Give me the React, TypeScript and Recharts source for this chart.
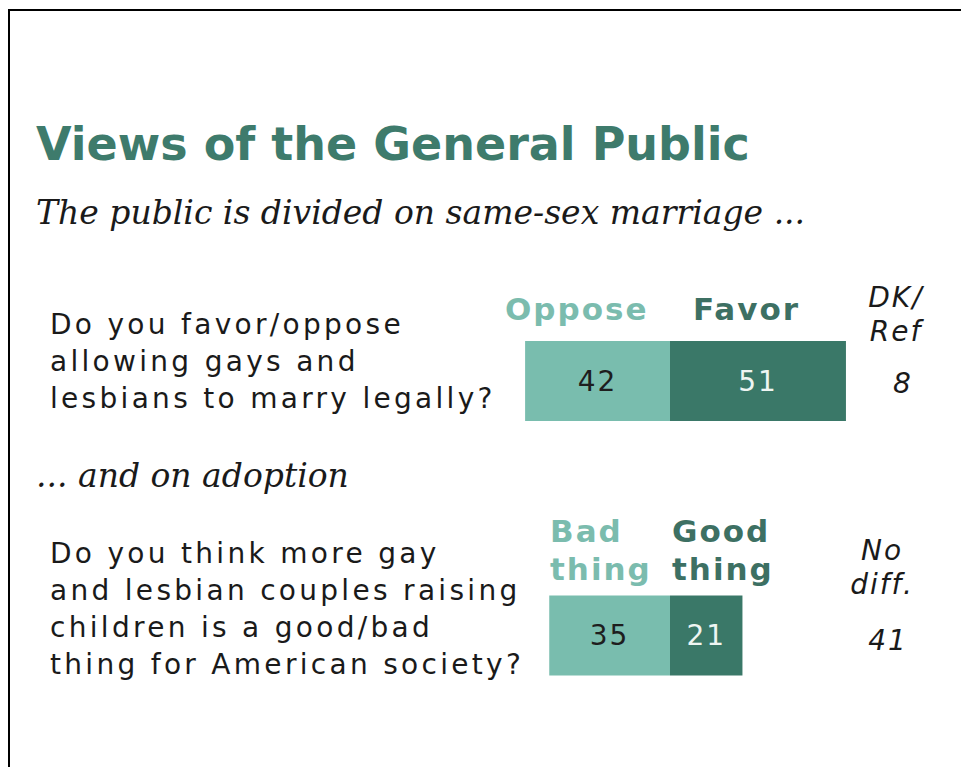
import React from 'react';
import { BarChart, Bar, XAxis, YAxis, LabelList } from 'recharts';

// survey rows
const QUESTIONS = ['sameSexMarriage', 'adoption'];
const QUESTION_LINES = [
  ['Do you favor/oppose', 'allowing gays and', 'lesbians to marry legally?'],
  ['Do you think more gay', 'and lesbian couples raising', 'children is a good/bad', 'thing for American society?'],
];
const NEG_LABELS = [['Oppose'], ['Bad', 'thing']];
const POS_LABELS = [['Favor'], ['Good', 'thing']];
const OTHER_LABELS = [['DK/', 'Ref'], ['No', 'diff.']];
const NEG_VALUES = [42, 35];
const POS_VALUES = [51, 21];
const OTHER_VALUES = [8, 41];

const LIGHT = '#79bdae';
const DARK = '#3a7868';
const SANS = '"DejaVu Sans", Verdana, sans-serif';
const SERIF = '"DejaVu Serif", Georgia, serif';

const data = QUESTIONS.map((q, i) => ({
  q,
  neg: -NEG_VALUES[i],
  pos: POS_VALUES[i],
  other: OTHER_VALUES[i],
}));

// where the text blocks sit, per row
const QUESTION_TOP = [306, 535];
const HEADER_TOP = [290, 512];
const OTHER_TOP = [281, 534];
const OTHER_CENTER = [896, 882];
const OTHER_VALUE_X = [903, 888];

type TextProps = {
  x: number;
  y: number;
  size: number;
  lh?: number;
  color?: string;
  bold?: boolean;
  italic?: boolean;
  font?: string;
  spacing?: number;
  center?: boolean;
  lines: string[];
};

const Txt = ({ x, y, size, lh, color = '#1a1a1a', bold, italic, font = SANS, spacing = 0, center, lines }: TextProps) => (
  <div
    style={{
      position: 'absolute',
      left: center ? x - 150 : x,
      width: center ? 300 : undefined,
      textAlign: center ? 'center' : 'left',
      top: y,
      fontFamily: font,
      fontSize: size,
      lineHeight: `${lh ?? size}px`,
      fontWeight: bold ? 'bold' : 'normal',
      fontStyle: italic ? 'italic' : 'normal',
      letterSpacing: spacing,
      color,
      whiteSpace: 'nowrap',
    }}
  >
    {lines.map((l, i) => (
      <div key={i}>{l}</div>
    ))}
  </div>
);

const OtherValue = (props: any) => {
  const { y, height, index, value } = props;
  return (
    <text
      x={OTHER_VALUE_X[index]}
      y={y + height / 2 + (index === 1 ? 5 : 2)}
      textAnchor="middle"
      dominantBaseline="central"
      fontFamily={SANS}
      fontStyle="italic"
      fontSize={28}
      letterSpacing={2}
      fill="#1a1a1a"
    >
      {value}
    </text>
  );
};

export default function App() {
  return (
    <div style={{ position: 'fixed', left: 0, top: 0, width: 961, height: 767, overflow: 'hidden', background: '#fff' }}>
      <div style={{ position: 'absolute', left: 8, top: 9, width: 1000, height: 800, border: '2px solid #000' }} />

      <div style={{ position: 'absolute', left: 0, top: 0 }}>
        <BarChart
          width={961}
          height={767}
          data={data}
          layout="vertical"
          stackOffset="sign"
          barSize={80}
          margin={{ top: 254, right: 84, bottom: 4, left: 463 }}
        >
          <XAxis type="number" domain={[-60, 60]} hide />
          <YAxis type="category" dataKey="q" hide />
          <Bar dataKey="neg" stackId="a" fill={LIGHT} isAnimationActive={false}>
            <LabelList
              dataKey="neg"
              position="center"
              formatter={(v: any) => Math.abs(Number(v))}
              fill="#1e1e1e"
              fontFamily={SANS}
              fontSize={28}
              letterSpacing={2}
            />
          </Bar>
          <Bar dataKey="pos" stackId="a" fill={DARK} isAnimationActive={false}>
            <LabelList
              dataKey="pos"
              position="center"
              fill="#eef5f2"
              fontFamily={SANS}
              fontSize={28}
              letterSpacing={2}
            />
            <LabelList dataKey="other" content={OtherValue} />
          </Bar>
        </BarChart>
      </div>

      <Txt x={36} y={121} size={46} bold color="#3e7b6c" lines={['Views of the General Public']} />
      <Txt x={36} y={196} size={33} italic font={SERIF} color="#1a1a1a" lines={['The public is divided on same-sex marriage ...']} />
      <Txt x={36} y={459} size={33} italic font={SERIF} color="#1a1a1a" lines={['... and on adoption']} />

      {QUESTIONS.map((q, i) => (
        <React.Fragment key={q}>
          <Txt x={50} y={QUESTION_TOP[i]} size={28} lh={37} spacing={3.3} lines={QUESTION_LINES[i]} />
          <Txt x={i === 0 ? 505 : 550} y={HEADER_TOP[i]} size={31} lh={38} bold spacing={2} color="#7bbcae" lines={NEG_LABELS[i]} />
          <Txt x={i === 0 ? 693 : 672} y={HEADER_TOP[i]} size={31} lh={38} bold spacing={2} color="#3d7063" lines={POS_LABELS[i]} />
          <Txt x={OTHER_CENTER[i]} y={OTHER_TOP[i]} size={28} lh={34} italic spacing={2} center lines={OTHER_LABELS[i]} />
        </React.Fragment>
      ))}
    </div>
  );
}
